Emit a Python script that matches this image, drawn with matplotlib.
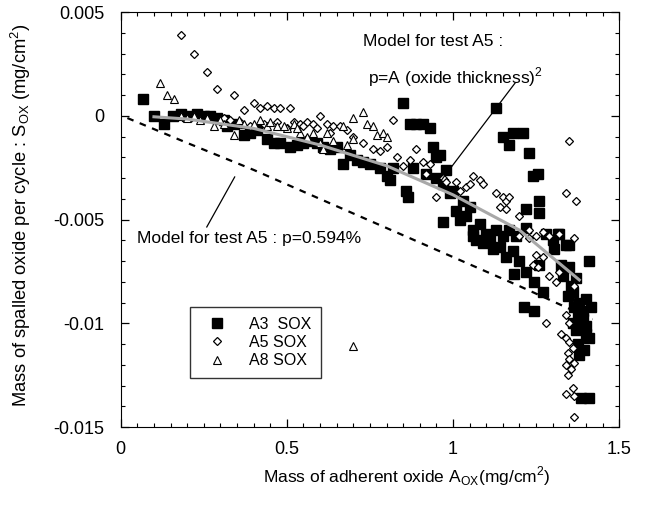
import numpy as np
import matplotlib
matplotlib.use("Agg")
import matplotlib.pyplot as plt
from matplotlib.ticker import MultipleLocator

plt.rcParams['font.family'] = ['Liberation Sans', 'DejaVu Sans']
plt.rcParams['mathtext.fontset'] = 'custom'
plt.rcParams['mathtext.rm'] = 'Liberation Sans'

# A3 SOX (filled squares)
a3 = [(0.067, 0.0008), (0.10, 0.0), (0.13, -0.0004), (0.157, 0.0), (0.18, 0.0001), (0.20, 0.0),
      (0.23, 0.0001), (0.25, 0.0), (0.27, 0.0), (0.29, -0.0001), (0.31, -0.0002), (0.32, -0.0005),
      (0.34, -0.0004), (0.37, -0.0009), (0.39, -0.0008), (0.41, -0.0007), (0.44, -0.0011),
      (0.46, -0.0013), (0.48, -0.0013), (0.51, -0.0015), (0.53, -0.0014), (0.55, -0.0013),
      (0.57, -0.0012), (0.59, -0.0013), (0.61, -0.0015), (0.63, -0.0016), (0.65, -0.0015),
      (0.67, -0.0023), (0.69, -0.0019), (0.71, -0.0021), (0.73, -0.0022), (0.75, -0.0023),
      (0.78, -0.0025), (0.80, -0.0029), (0.81, -0.0031), (0.82, -0.0025), (0.85, 0.0006),
      (0.87, -0.0004), (0.88, -0.0025), (0.86, -0.0036), (0.865, -0.0039), (0.89, -0.0004),
      (0.91, -0.0004), (0.93, -0.0006), (0.94, -0.0015), (0.95, -0.0020), (0.96, -0.0019),
      (0.98, -0.0026), (0.97, -0.0033), (0.99, -0.0037), (1.00, -0.0036), (0.97, -0.0051),
      (1.02, -0.0050), (1.06, -0.0055), (1.07, -0.0060), (1.10, -0.0057), (1.13, -0.0055),
      (1.15, -0.0058), (1.17, -0.0055), (1.19, -0.0058), (1.22, -0.0054), (1.22, -0.0045),
      (1.26, -0.0047), (1.28, -0.0057), (1.30, -0.0060), (1.32, -0.0057), (1.34, -0.0062),
      (1.26, -0.0041), (1.24, -0.0029), (1.255, -0.0028), (1.23, -0.0018), (1.18, -0.0008),
      (1.21, -0.0008), (1.15, -0.0010), (1.17, -0.0014), (1.13, 0.0004),
      (1.06, -0.0058), (1.09, -0.0061), (1.12, -0.0064), (1.16, -0.0068), (1.185, -0.0076),
      (1.22, -0.0075), (1.245, -0.0080), (1.26, -0.0072), (1.215, -0.0092), (1.245, -0.0094),
      (1.27, -0.0085), (1.305, -0.0064), (1.325, -0.0072), (1.33, -0.0077), (1.35, -0.0073),
      (1.355, -0.0082), (1.345, -0.0087), (1.365, -0.0092), (1.375, -0.0096), (1.39, -0.0094),
      (1.415, -0.0092), (1.41, -0.0070), (1.37, -0.0103), (1.385, -0.0102), (1.40, -0.0101),
      (1.41, -0.0107), (1.395, -0.0113), (1.375, -0.0110), (1.385, -0.0136), (1.41, -0.0136),
      (1.35, -0.0062), (1.315, -0.0057), (1.04, -0.0048), (1.08, -0.0052), (1.11, -0.0060),
      (1.14, -0.0063), (1.18, -0.0065), (1.20, -0.0070), (1.36, -0.0085), (1.38, -0.0090),
      (1.39, -0.0098), (1.36, -0.0100), (1.40, -0.0105), (1.38, -0.0115), (1.37, -0.0078),
      (1.40, -0.0088), (1.03, -0.0041), (1.01, -0.0046), (0.95, -0.0030), (0.92, -0.0028),
      (1.05, -0.0044)]

# A5 SOX (open diamonds)
a5 = [(0.18, 0.0039), (0.22, 0.0030), (0.26, 0.0021), (0.29, 0.0013), (0.34, 0.0010),
      (0.37, 0.0003), (0.40, 0.0006), (0.42, 0.0004), (0.44, 0.0005), (0.46, 0.0004),
      (0.48, 0.0004), (0.51, 0.0004), (0.52, -0.0003), (0.54, -0.0004), (0.56, -0.0003),
      (0.58, -0.0004), (0.60, 0.0), (0.62, -0.0004), (0.64, -0.0005), (0.66, -0.0005),
      (0.68, -0.0007), (0.70, -0.0010), (0.73, -0.0013), (0.76, -0.0016), (0.78, -0.0017),
      (0.80, -0.0015), (0.82, -0.0002), (0.83, -0.0020), (0.85, -0.0024), (0.87, -0.0021),
      (0.89, -0.0016), (0.91, -0.0022), (0.93, -0.0023), (0.92, -0.0028), (0.95, -0.0039),
      (0.97, -0.0030), (0.98, -0.0032), (1.01, -0.0032), (1.02, -0.0036), (1.04, -0.0034),
      (1.05, -0.0033), (1.06, -0.0029), (1.08, -0.0031), (1.09, -0.0033), (1.13, -0.0037),
      (1.15, -0.0039), (1.16, -0.0041), (1.17, -0.0039), (1.14, -0.0044), (1.16, -0.0045),
      (1.20, -0.0048), (1.23, -0.0055), (1.25, -0.0058), (1.27, -0.0056), (1.29, -0.0058),
      (1.32, -0.0057), (1.35, -0.0012), (1.34, -0.0037), (1.37, -0.0041), (1.20, -0.0058),
      (1.23, -0.0059), (1.25, -0.0067), (1.27, -0.0068), (1.24, -0.0072), (1.255, -0.0073),
      (1.29, -0.0077), (1.31, -0.0080), (1.32, -0.0075), (1.34, -0.0096), (1.28, -0.0100),
      (1.325, -0.0105), (1.34, -0.0107), (1.35, -0.0109), (1.345, -0.0114), (1.35, -0.0117),
      (1.34, -0.0120), (1.355, -0.0122), (1.345, -0.0125), (1.365, -0.0119), (1.34, -0.0134),
      (1.36, -0.0131), (1.365, -0.0135), (1.363, -0.0145), (1.365, -0.0059), (1.365, -0.0082),
      (0.31, -0.0001), (0.33, -0.0002), (0.36, -0.0003), (0.39, -0.0005), (0.43, -0.0004),
      (0.47, -0.0003), (0.50, -0.0006), (0.55, -0.0005), (0.59, -0.0006), (0.63, -0.0008),
      (1.35, -0.0100), (1.36, -0.0112)]

# A8 SOX (open triangles)
a8 = [(0.117, 0.0016), (0.14, 0.0010), (0.16, 0.0008), (0.18, 0.0), (0.20, -0.0001),
      (0.22, 0.0), (0.24, -0.0002), (0.26, -0.0001), (0.28, -0.0005), (0.30, -0.0002),
      (0.31, -0.0004), (0.34, -0.0009), (0.355, -0.0002), (0.37, -0.0004), (0.40, -0.0004),
      (0.42, -0.0002), (0.44, -0.0005), (0.47, -0.0005), (0.50, -0.0006), (0.52, -0.0004),
      (0.54, -0.0008), (0.56, -0.0010), (0.58, -0.0008), (0.60, -0.0013), (0.62, -0.0008),
      (0.64, -0.0012), (0.67, -0.0005), (0.68, -0.0014), (0.70, -0.0001), (0.73, 0.0002),
      (0.74, -0.0004), (0.76, -0.0005), (0.77, -0.0009), (0.79, -0.0008), (0.80, -0.0010),
      (0.61, -0.0016), (0.53, -0.0006), (0.49, -0.0005), (0.45, -0.0003), (0.70, -0.0011),
      (0.70, -0.0111)]

# model curves
lin_x = [0.02, 0.2, 0.4, 0.6, 0.8, 1.0, 1.2, 1.42]
lin_y = [-0.0001, -0.0013, -0.0026, -0.0040, -0.0054, -0.0068, -0.0082, -0.0098]
quad_x = [0.1, 0.2, 0.4, 0.6, 0.8, 1.0, 1.2, 1.38]
quad_y = [-0.00004, -0.00015, -0.0006, -0.0014, -0.0024, -0.0038, -0.0055, -0.0079]

a3 = np.array(a3)
a5 = np.array(a5)
a8 = np.array(a8)

fig = plt.figure(figsize=(6.49, 5.08), dpi=100)
ax = fig.add_axes([0.186, 0.159, 0.768, 0.817])

ax.plot(a3[:, 0], a3[:, 1], 's', ms=7, mfc='black', mec='black', ls='none', label='A3  SOX', zorder=3)
ax.plot(a5[:, 0], a5[:, 1], 'D', ms=4.5, mfc='white', mec='black', mew=0.9, ls='none', label='A5 SOX', zorder=3)
ax.plot(a8[:, 0], a8[:, 1], '^', ms=6, mfc='white', mec='black', mew=0.8, ls='none', label='A8 SOX', zorder=3)

ax.plot(lin_x, lin_y, color='black', lw=1.6, ls=(0, (3, 3)), zorder=2)
ax.plot(quad_x, quad_y, color='#a8a8a8', lw=2.2, zorder=4)

# pointer lines for annotations
ax.plot([0.343, 0.259], [-0.00294, -0.00535], color='black', lw=0.9, zorder=5)
ax.plot([1.187, 0.961], [0.00159, -0.00318], color='black', lw=0.9, zorder=5)

ax.text(0.73, 0.00357, 'Model for test A5 :', fontsize=12.5, va='center')
ax.text(0.745, 0.00188, 'p=A (oxide thickness)$^2$', fontsize=12.5, va='center')
ax.text(0.05, -0.0059, 'Model for test A5 : p=0.594%', fontsize=12.5, va='center')

ax.set_xlim(0, 1.5)
ax.set_ylim(-0.015, 0.005)
ax.set_xticks([0, 0.5, 1, 1.5])
ax.set_xticklabels(['0', '0.5', '1', '1.5'])
ax.set_yticks([-0.015, -0.01, -0.005, 0, 0.005])
ax.set_yticklabels(['-0.015', '-0.01', '-0.005', '0', '0.005'])
ax.xaxis.set_minor_locator(MultipleLocator(0.05))
ax.yaxis.set_minor_locator(MultipleLocator(0.001))
ax.tick_params(which='both', direction='in', top=True, right=True, labelsize=13)
ax.tick_params(which='major', length=6, width=0.9)
ax.tick_params(which='minor', length=3, width=0.8)
ax.tick_params(axis='x', pad=10)
ax.tick_params(axis='y', pad=12)

ax.set_xlabel('Mass of adherent oxide A$_{\\mathregular{OX}}$(mg/cm$^2$)', fontsize=12.5)
ax.set_ylabel('Mass of spalled oxide per cycle : S$_{\\mathregular{OX}}$ (mg/cm$^2$)', fontsize=13.2)
ax.xaxis.set_label_coords(0.574, -0.09)
ax.yaxis.set_label_coords(-0.175, 0.51)

leg = ax.legend(loc='upper left', bbox_to_anchor=(0.139, 0.289), fontsize=11.5,
                frameon=True, fancybox=False, edgecolor='black', borderpad=0.6,
                handlelength=2.2, handletextpad=0.9, labelspacing=0.2, borderaxespad=0)
leg.get_frame().set_linewidth(1.0)

fig.savefig('out.png', dpi=100)
